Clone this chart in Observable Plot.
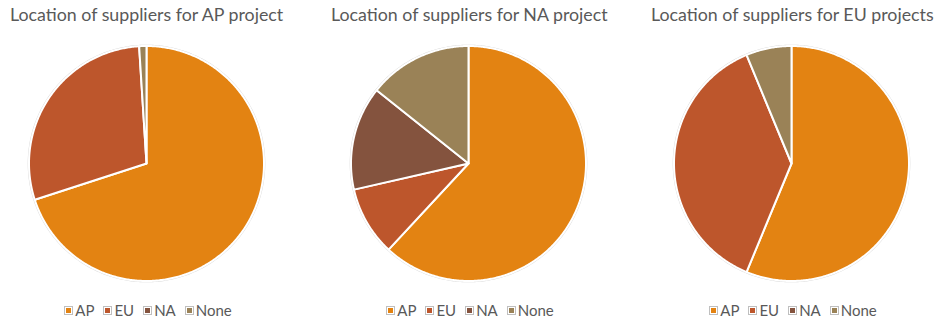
<!DOCTYPE html>
<html>
<head>
<meta charset="utf-8">
<script src="https://cdn.jsdelivr.net/npm/d3@7"></script>
<script src="https://cdn.jsdelivr.net/npm/@observablehq/plot@0.6"></script>
<style>
  html, body { margin: 0; padding: 0; background: #fff; }
  #root { position: relative; width: 934px; height: 323px; overflow: hidden; font-family: Lato, "Open Sans", sans-serif; }
  .title { position: absolute; top: 3px; text-align: left; font-size: 17.8px; color: #595959; white-space: nowrap; }
  .pie { position: absolute; }
  .legend { position: absolute; top: 301px; width: 300px; display: flex; justify-content: center; gap: 9px; font-size: 15px; color: #595959; }
  .item { display: flex; align-items: center; gap: 2px; }
  .sw { width: 5px; height: 5px; border: 1px solid #bfbfbf; padding: 1px; background-clip: content-box; box-sizing: content-box; }
</style>
</head>
<body>
<div id="root"></div>
<script>
const categories = ["AP", "EU", "NA", "None"];
const colors = ["#E38312", "#BD562C", "#84533E", "#9A8257"];
const titles = [
  "Location of suppliers for AP project",
  "Location of suppliers for NA project",
  "Location of suppliers for EU projects"
];
const apProject = [70, 29, 0, 1];
const naProject = [13, 2, 3, 3];
const euProject = [9, 6, 0, 1];
const seriesList = [apProject, naProject, euProject];
const centersX = [146, 468, 791];
const titleLeft = [10, 331, 651];

const root = document.getElementById("root");
const R = 117.5, half = 120, centerY = 162.5;
const dom = half / R;

seriesList.forEach((values, k) => {
  const cx = centersX[k];
  const t = document.createElement("div");
  t.className = "title";
  t.style.left = titleLeft[k] + "px";
  t.textContent = titles[k];
  root.appendChild(t);

  const arcs = d3.pie().sort(null).startAngle(0).endAngle(2 * Math.PI)(values);
  const pts = [];
  arcs.forEach((a, i) => {
    if (a.value <= 0) return;
    pts.push({cat: categories[i], x: 0, y: 0});
    const n = Math.max(2, Math.ceil((a.endAngle - a.startAngle) / 0.01));
    for (let j = 0; j <= n; j++) {
      const th = a.startAngle + (a.endAngle - a.startAngle) * j / n;
      pts.push({cat: categories[i], x: Math.sin(th), y: Math.cos(th)});
    }
  });
  const ring = d3.range(0, 361).map(d => ({x: 1.006 * Math.sin(d * Math.PI / 180), y: 1.006 * Math.cos(d * Math.PI / 180)}));

  const chart = Plot.plot({
    width: 2 * half, height: 2 * half, margin: 0,
    x: {domain: [-dom, dom], axis: null},
    y: {domain: [-dom, dom], axis: null},
    color: {domain: categories, range: colors},
    marks: [
      Plot.line(ring, {x: "x", y: "y", stroke: "#d6d6d6", strokeWidth: 1.2}),
      Plot.line(pts, {x: "x", y: "y", z: "cat", fill: "cat", stroke: "white", strokeWidth: 2, strokeLinejoin: "round", curve: "linear-closed"})
    ]
  });
  chart.classList.add("pie");
  chart.style.left = (cx - half) + "px";
  chart.style.top = (centerY - half) + "px";
  root.appendChild(chart);

  const lg = document.createElement("div");
  lg.className = "legend";
  lg.style.left = (cx + 2 - 150) + "px";
  categories.forEach((c, i) => {
    const it = document.createElement("div");
    it.className = "item";
    const sw = document.createElement("span");
    sw.className = "sw";
    sw.style.backgroundColor = colors[i];
    const tx = document.createElement("span");
    tx.textContent = c;
    it.appendChild(sw); it.appendChild(tx);
    lg.appendChild(it);
  });
  root.appendChild(lg);
});
</script>
</body>
</html>
